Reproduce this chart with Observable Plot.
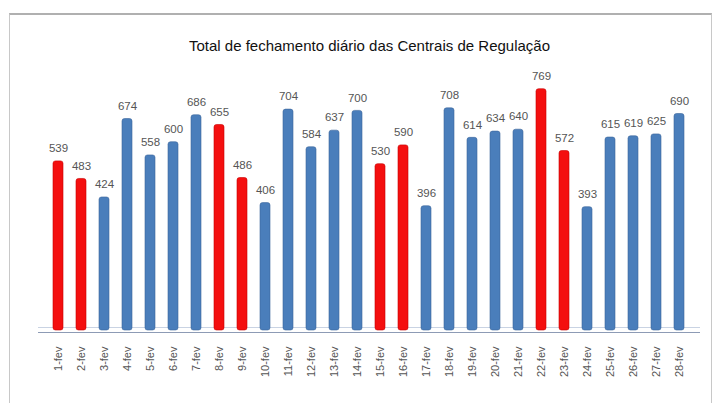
<!DOCTYPE html>
<html><head><meta charset="utf-8">
<script src="https://cdn.jsdelivr.net/npm/d3@7"></script>
<script src="https://cdn.jsdelivr.net/npm/@observablehq/plot@0.6"></script>
<style>
html,body{margin:0;padding:0;background:#fff;}
#wrap{position:relative;width:721px;height:403px;overflow:hidden;}
#frame{position:absolute;left:9px;top:13px;width:703px;height:400px;border:1px solid #c8c8c8;border-top:2px solid #b0b0b0;box-sizing:border-box;}
#chart{position:absolute;left:0;top:0;}
</style></head>
<body>
<div id="wrap"><div id="frame"></div><div id="chart"></div></div>
<script>
const title = "Total de fechamento diário das Centrais de Regulação";
const days = ["1-fev","2-fev","3-fev","4-fev","5-fev","6-fev","7-fev","8-fev","9-fev","10-fev","11-fev","12-fev","13-fev","14-fev","15-fev","16-fev","17-fev","18-fev","19-fev","20-fev","21-fev","22-fev","23-fev","24-fev","25-fev","26-fev","27-fev","28-fev"];
const values = [539,483,424,674,558,600,686,655,486,406,704,584,637,700,530,590,396,708,614,634,640,769,572,393,615,619,625,690];
const weekend = [true,true,false,false,false,false,false,true,true,false,false,false,false,false,true,true,false,false,false,false,false,true,true,false,false,false,false,false];

const data = days.map((d,i)=>({day:d, value:values[i], kind: weekend[i] ? "fim de semana" : "dia útil"}));
const font = "'Liberation Sans',Arial,sans-serif";

const chart = Plot.plot({
  width: 721, height: 403,
  marginLeft: 38, marginRight: 21, marginTop: 79, marginBottom: 73,
  style: {fontFamily: font, background: "transparent"},
  x: {type: "band", domain: days, padding: 0.55, axis: null},
  y: {domain: [0, 800], axis: null},
  color: {domain: ["dia útil","fim de semana"], range: ["#4a7ebb","#f40f0f"]},
  marks: [
    Plot.ruleY([0], {stroke: "#c9d3e3", strokeWidth: 1, dy: -3}),
    Plot.barY(data, {x: "day", y: "value", fill: "kind", rx: 2.5, stroke: d => d.kind === "dia útil" ? "#3a659a" : "#c80000", strokeWidth: 0.6}),
    Plot.ruleY([0], {stroke: "#8d9bb5", strokeWidth: 1.2, dy: 2}),
    Plot.text(data, {x: "day", y: "value", text: d => String(d.value), dy: -13, fontSize: 11.5, fill: "#555"}),
    Plot.text(data, {x: "day", y: 0, text: "day", rotate: -90, textAnchor: "end", dy: 16, fontSize: 11, fill: "#555"}),
    Plot.text([title], {frameAnchor: "top", dy: -39, fontSize: 15, fill: "#111"})
  ]
});
document.getElementById("chart").appendChild(chart);
</script>
</body></html>
